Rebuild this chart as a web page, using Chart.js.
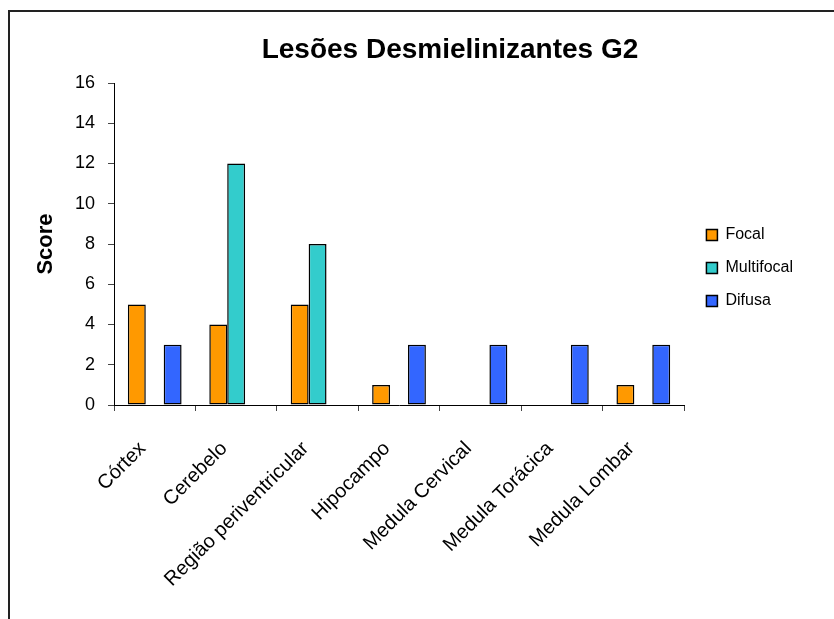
<!DOCTYPE html>
<html>
<head>
<meta charset="utf-8">
<script src="https://cdn.jsdelivr.net/npm/chart.js@4.4.1/dist/chart.umd.min.js"></script>
<style>
  html, body { margin: 0; padding: 0; background: #fff; overflow: hidden; }
  #frame { position: absolute; left: 8px; top: 10px; width: 900px; height: 700px; border: 2px solid #222; }
  #wrap { position: absolute; left: 0; top: 0; width: 834px; height: 619px; }
</style>
</head>
<body>
<div id="frame"></div>
<div id="wrap"><canvas id="chart" width="834" height="619"></canvas></div>
<script>
const TITLE = 'Lesões Desmielinizantes G2';
const regions = ['Córtex', 'Cerebelo', 'Região periventricular', 'Hipocampo', 'Medula Cervical', 'Medula Torácica', 'Medula Lombar'];
const focal      = [5, 4, 5, 1, 0, 0, 1];
const multifocal = [0, 12, 8, 0, 0, 0, 0];
const difusa     = [3, 0, 0, 3, 3, 3, 3];
const yTicks     = [0, 2, 4, 6, 8, 10, 12, 14, 16];

const FONT = '"Liberation Sans", Arial, Helvetica, sans-serif';

// chart heading sits over the middle of plot + legend, so it is drawn here
const headingPlugin = {
  id: 'heading',
  afterDraw(chart) {
    const ctx = chart.ctx;
    ctx.save();
    ctx.font = `bold 28px ${FONT}`;
    ctx.fillStyle = '#000';
    ctx.textAlign = 'center';
    ctx.textBaseline = 'alphabetic';
    ctx.fillText(TITLE, 450, 58);
    ctx.restore();
  }
};

const barStyle = { borderColor: '#000', borderWidth: 1.5, borderSkipped: false };

new Chart(document.getElementById('chart'), {
  type: 'bar',
  data: {
    labels: regions,
    datasets: [
      { label: 'Focal',      data: focal,      backgroundColor: '#FF9900', ...barStyle },
      { label: 'Multifocal', data: multifocal, backgroundColor: '#33CCCC', ...barStyle },
      { label: 'Difusa',     data: difusa,     backgroundColor: '#3366FF', ...barStyle },
    ],
  },
  options: {
    responsive: false,
    animation: false,
    categoryPercentage: 0.66,
    barPercentage: 1.0,
    layout: { padding: { top: 83, left: 20, right: 31, bottom: 29 } },
    font: { family: FONT },
    plugins: {
      title: { display: false },
      tooltip: { enabled: false },
      legend: {
        position: 'right',
        align: 'start',
        title: { display: true, text: ' ', font: { size: 10 }, padding: { top: 115, bottom: 0 } },
        labels: {
          color: '#000',
          font: { family: FONT, size: 16 },
          boxWidth: 11,
          boxHeight: 11,
          padding: 17,
        },
      },
    },
    scales: {
      x: {
        offset: true,
        grid: { offset: true, drawOnChartArea: false, tickLength: 6, color: '#444' },
        border: { color: '#000', width: 1 },
        ticks: {
          color: '#000',
          font: { family: FONT, size: 20 },
          minRotation: 45,
          maxRotation: 45,
          autoSkip: false,
          padding: 26,
          labelOffset: -12,
        },
        afterFit: (axis) => { axis.height = 185; },
      },
      y: {
        min: 0,
        max: 16,
        afterBuildTicks: (axis) => { axis.ticks = yTicks.map(v => ({ value: v })); },
        grid: { drawOnChartArea: false, tickLength: 6, color: '#444' },
        border: { color: '#000', width: 1 },
        ticks: { color: '#000', font: { family: FONT, size: 18 }, padding: 13 },
        title: {
          display: true,
          text: 'Score',
          color: '#000',
          font: { family: FONT, size: 22, weight: 'bold' },
          padding: { top: 12.6, bottom: 3 },
        },
      },
      // narrow spacer between the plot and the legend
      gap: {
        type: 'linear',
        position: 'right',
        display: true,
        grid: { display: false, drawTicks: false },
        border: { display: false },
        ticks: { display: false },
        afterFit: (axis) => { axis.width = 5.4; },
      },
    },
  },
  plugins: [headingPlugin],
});
</script>
</body>
</html>
